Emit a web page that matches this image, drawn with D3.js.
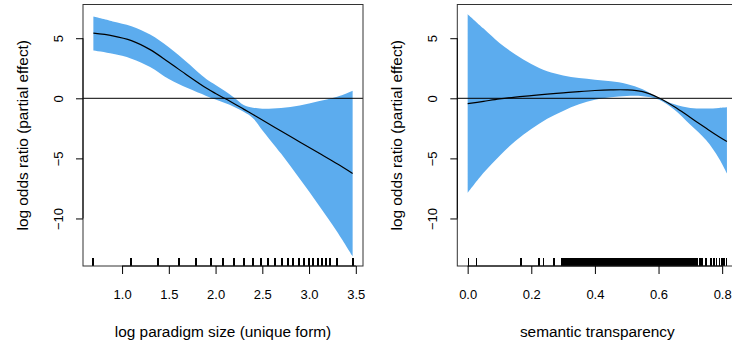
<!DOCTYPE html>
<html>
<head>
<meta charset="utf-8">
<script src="https://cdn.jsdelivr.net/npm/d3@7"></script>
<style>
  html, body { margin: 0; padding: 0; background: #fff; }
  svg { display: block; font-family: "Liberation Sans", Arial, sans-serif; }
</style>
</head>
<body>
<div id="container"></div>
<script>
const chartWidth = 732
const chartHeight = 345

const BAND_COLOR = "#5CACEE";

// Left panel: log paradigm size
const sizeX     = [0.693, 0.9, 1.1, 1.3, 1.5, 1.7, 1.9, 2.0, 2.1, 2.2, 2.3, 2.4, 2.5, 2.7, 2.9, 3.1, 3.3, 3.466];
const sizeFit   = [5.42, 5.2, 4.8, 4.05, 3.0, 1.9, 0.85, 0.4, -0.02, -0.45, -0.9, -1.35, -1.8, -2.72, -3.63, -4.54, -5.45, -6.25];
const sizeUpper = [6.8, 6.4, 6.0, 5.3, 4.25, 2.95, 1.6, 1.1, 0.6, 0.05, -0.55, -0.78, -0.86, -0.8, -0.6, -0.25, 0.12, 0.63];
const sizeLower = [3.97, 3.7, 3.3, 2.6, 1.6, 0.85, 0.2, -0.1, -0.4, -0.72, -1.12, -1.65, -2.65, -4.6, -6.7, -8.85, -11.1, -13.15];
const sizeRug   = [0.693, 1.099, 1.386, 1.609, 1.792, 1.946, 2.079, 2.197, 2.303, 2.398, 2.485, 2.565, 2.639, 2.708,
                   2.773, 2.833, 2.890, 2.944, 2.996, 3.045, 3.091, 3.135, 3.178, 3.219, 3.296, 3.466];
const sizeTicks = [1.0, 1.5, 2.0, 2.5, 3.0, 3.5];

// Right panel: semantic transparency
const stX     = [0, 0.05, 0.1, 0.15, 0.2, 0.25, 0.3, 0.35, 0.4, 0.45, 0.5, 0.55, 0.6, 0.65, 0.7, 0.75, 0.79, 0.815];
const stFit   = [-0.45, -0.25, -0.05, 0.1, 0.22, 0.34, 0.45, 0.56, 0.65, 0.7, 0.7, 0.55, 0.05, -0.7, -1.6, -2.5, -3.2, -3.6];
const stUpper = [7.0, 5.8, 4.6, 3.65, 2.85, 2.25, 1.9, 1.68, 1.55, 1.42, 1.2, 0.75, 0.05, -0.5, -0.8, -0.85, -0.8, -0.75];
const stLower = [-7.87, -6.2, -4.8, -3.55, -2.55, -1.7, -1.05, -0.5, -0.12, 0.08, 0.2, 0.18, -0.1, -0.95, -2.2, -3.5, -5.0, -6.25];
const stRug   = [0.002, 0.028, 0.168, 0.225, 0.239, 0.272, 0.296,
  0.301, 0.305, 0.309, 0.312, 0.318, 0.322, 0.327, 0.331, 0.334, 0.339, 0.343, 0.348, 0.351, 0.356, 0.359,
  0.362, 0.367, 0.371, 0.374, 0.377, 0.381, 0.384, 0.388, 0.391, 0.394, 0.397, 0.401, 0.404, 0.407, 0.410,
  0.413, 0.416, 0.418,
  0.421, 0.423, 0.426, 0.428, 0.431, 0.433, 0.436, 0.438, 0.441, 0.443, 0.446, 0.448, 0.451, 0.453, 0.456,
  0.458, 0.461, 0.463, 0.466, 0.468, 0.471, 0.473, 0.476, 0.478, 0.481, 0.483, 0.486, 0.488, 0.491, 0.493,
  0.496, 0.498, 0.501, 0.503, 0.506, 0.508, 0.511, 0.513, 0.516, 0.518, 0.521, 0.523, 0.526, 0.528, 0.531,
  0.533, 0.536, 0.538, 0.541, 0.543, 0.546, 0.548, 0.551, 0.553, 0.556, 0.558, 0.561, 0.563, 0.566, 0.568,
  0.571, 0.573, 0.576, 0.578, 0.581, 0.583, 0.586, 0.588, 0.591, 0.593, 0.596, 0.598, 0.601, 0.603, 0.606,
  0.608, 0.611, 0.613, 0.616, 0.618, 0.621, 0.623, 0.626, 0.628, 0.631, 0.633, 0.636, 0.638, 0.641, 0.643,
  0.646, 0.648, 0.651, 0.653, 0.656, 0.658, 0.661, 0.663, 0.666, 0.668, 0.671, 0.673, 0.676, 0.678, 0.681,
  0.683, 0.686, 0.688, 0.691, 0.693, 0.696, 0.698, 0.701, 0.703, 0.706, 0.708, 0.711, 0.713, 0.716, 0.718,
  0.721, 0.723, 0.728, 0.733, 0.737, 0.749, 0.765, 0.775, 0.782, 0.791, 0.799, 0.806, 0.814];
const stTicks = [0.0, 0.2, 0.4, 0.6, 0.8];

const yTicks = [-10, -5, 0, 5];
const Y_TITLE = "log odds ratio (partial effect)";

// R-style 4% range extension
function extend(ext)
{
    let pad = (ext[1] - ext[0]) * 0.04;
    return [ext[0] - pad, ext[1] + pad];
}

const yDomain = extend([d3.min(sizeLower.concat(stLower)), d3.max(sizeUpper.concat(stUpper))]);

const svg = d3.select("#container")
    .append("svg")
    .attr("width", chartWidth)
    .attr("height", chartHeight);

function drawPanel(left, xs, fit, upper, lower, rug, xTicks, xTitle, rugWidth)
{
    var box = { top: 4.5, bottom: 266, width: 280 };

    var x = d3.scaleLinear()
        .domain(extend(d3.extent(xs)))
        .range([left, left + box.width]);

    var y = d3.scaleLinear()
        .domain(yDomain)
        .range([box.bottom, box.top]);

    let data = xs.map((v, i) => ({ x: v, fit: fit[i], hi: upper[i], lo: lower[i] }));

    // confidence band
    svg.append("path")
        .datum(data)
        .attr("fill", BAND_COLOR)
        .attr("stroke", "none")
        .attr("d", d3.area()
            .curve(d3.curveCatmullRom.alpha(0.5))
            .x(d => x(d.x))
            .y0(d => y(d.lo))
            .y1(d => y(d.hi)));

    // zero line
    svg.append("line")
        .attr("x1", left).attr("x2", left + box.width)
        .attr("y1", y(0)).attr("y2", y(0))
        .attr("stroke", "#000")
        .attr("stroke-width", 1);

    // fitted smooth
    svg.append("path")
        .datum(data)
        .attr("fill", "none")
        .attr("stroke", "#000")
        .attr("stroke-width", 1.2)
        .attr("d", d3.line()
            .curve(d3.curveCatmullRom.alpha(0.5))
            .x(d => x(d.x))
            .y(d => y(d.fit)));

    // rug
    svg.append("g")
        .attr("shape-rendering", "crispEdges")
        .selectAll("line")
        .data(rug)
        .join("line")
        .attr("x1", d => x(d)).attr("x2", d => x(d))
        .attr("y1", box.bottom).attr("y2", box.bottom - 8)
        .attr("stroke", "#000")
        .attr("stroke-width", rugWidth);

    // box
    svg.append("rect")
        .attr("x", left).attr("y", box.top)
        .attr("width", box.width).attr("height", box.bottom - box.top)
        .attr("fill", "none")
        .attr("stroke", "#333")
        .attr("stroke-width", 1);

    // X axis
    let xAxis = svg.append("g")
        .attr("transform", "translate(0," + box.bottom + ")")
        .call(d3.axisBottom(x).tickValues(xTicks).tickSize(8).tickPadding(16)
            .tickFormat(d3.format(".1f")));
    xAxis.select(".domain").remove();
    xAxis.append("line")
        .attr("x1", x(xTicks[0])).attr("x2", x(xTicks[xTicks.length - 1]))
        .attr("stroke", "#000");
    xAxis.selectAll(".tick line").attr("stroke", "#000");
    xAxis.selectAll("text")
        .attr("fill", "#000")
        .style("font-size", "13px")
        .style("font-family", "'Liberation Sans', Arial, sans-serif");

    // Y axis
    let yAxis = svg.append("g")
        .attr("transform", "translate(" + left + ",0)")
        .call(d3.axisLeft(y).tickValues(yTicks).tickSize(7).tickFormat(d3.format("d")));
    yAxis.select(".domain").remove();
    yAxis.append("line")
        .attr("y1", y(yTicks[0])).attr("y2", y(yTicks[yTicks.length - 1]))
        .attr("stroke", "#000");
    yAxis.selectAll(".tick line").attr("stroke", "#000");
    yAxis.selectAll(".tick text")
        .attr("x", 0).attr("y", 0).attr("dy", null)
        .attr("text-anchor", "middle")
        .attr("dominant-baseline", "central")
        .attr("transform", "translate(-25,0) rotate(-90)")
        .attr("fill", "#000")
        .style("font-size", "13px")
        .style("font-family", "'Liberation Sans', Arial, sans-serif");

    // axis titles
    svg.append("text")
        .attr("x", left + box.width / 2)
        .attr("y", 337)
        .attr("text-anchor", "middle")
        .style("font-size", "15.4px")
        .text(xTitle);

    svg.append("text")
        .attr("transform", "translate(" + (left - 61) + "," + ((box.top + box.bottom) / 2) + ") rotate(-90)")
        .attr("text-anchor", "middle")
        .attr("dominant-baseline", "central")
        .style("font-size", "15.4px")
        .text(Y_TITLE);
}

drawPanel(83, sizeX, sizeFit, sizeUpper, sizeLower, sizeRug, sizeTicks, "log paradigm size (unique form)", 2);
drawPanel(457.3, stX, stFit, stUpper, stLower, stRug, stTicks, "semantic transparency", 1.5);
</script>
</body>
</html>
